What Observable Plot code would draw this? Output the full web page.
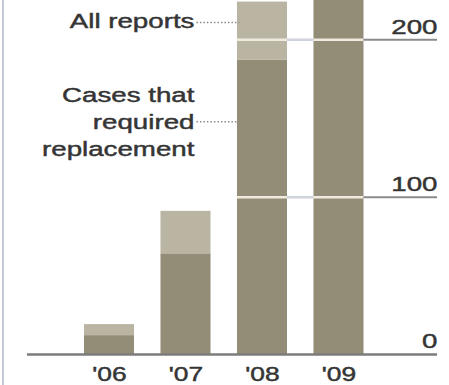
<!DOCTYPE html>
<html>
<head>
<meta charset="utf-8">
<script src="https://cdn.jsdelivr.net/npm/d3@7"></script>
<script src="https://cdn.jsdelivr.net/npm/@observablehq/plot@0.6"></script>
<style>
  html, body { margin: 0; padding: 0; background: #fff; }
  #wrap { position: relative; width: 449px; height: 385px; overflow: hidden; }
  #edge { position: absolute; left: 2px; top: 0; width: 2px; height: 385px; background: #c3cad5; }
</style>
</head>
<body>
<div id="wrap"><div id="edge"></div></div>
<script>
// Reports per year, and the subset of cases that required replacement
const years = [2006, 2007, 2008, 2009];
const yearLabels = ["'06", "'07", "'08", "'09"];
const allReports = [19, 91, 224, 262];
const replaced = [12, 64, 187, 250];
const yTicks = [0, 100, 200];

const data = years.map((year, i) => ({
  year,
  label: yearLabels[i],
  total: allReports[i],
  replaced: replaced[i]
}));

const dark = "#938d78";
const light = "#bab4a2";
const ink = "#353535";
const hw = 0.327;                 // half of a bar's width, in years
const xDomain = [2004.928, 2010.288];
const font = "Liberation Sans, Arial, Helvetica, sans-serif";
const textStyle = { fontSize: 21, fill: ink, stroke: ink, strokeWidth: 0.45 };

const chart = Plot.plot({
  width: 449,
  height: 385,
  marginLeft: 27,
  marginRight: 12,
  marginTop: 0,
  marginBottom: 31,
  style: { fontFamily: font, background: "transparent", overflow: "visible" },
  x: { type: "linear", domain: xDomain, axis: null },
  y: { domain: [0, 225], axis: null },
  marks: [
    // stacked bars: replacement cases below, remaining reports above
    Plot.rectY(data, { x1: d => d.year - hw, x2: d => d.year + hw, y1: 0, y2: "replaced", fill: dark, clip: true }),
    Plot.rectY(data, { x1: d => d.year - hw, x2: d => d.year + hw, y1: "replaced", y2: "total", fill: light, clip: true }),
    // gridlines: pale where they cut the tall bars, grey beside the scale
    Plot.ruleY([100, 200], { x1: 2008 - hw, x2: 2009 + hw, stroke: "#efebde", strokeWidth: 2.5 }),
    Plot.ruleY([100, 200], { x1: 2008 + hw, x2: 2009 - hw, stroke: "#cfd3dc", strokeWidth: 2.5 }),
    Plot.ruleY([100, 200], { x1: 2009 + hw, x2: xDomain[1], stroke: "#8a8a8a", strokeWidth: 2 }),
    Plot.ruleY([0], { stroke: "#7c7c7c", strokeWidth: 2.5 }),
    // value scale labels on the right
    Plot.text(yTicks, { x: xDomain[1], y: d => d, text: d => String(d), textAnchor: "end", lineAnchor: "middle", dy: -13, ...textStyle }),
    // year labels
    Plot.text(data, { x: "year", y: 0, text: "label", lineAnchor: "middle", dy: 20, ...textStyle, fontSize: 20 }),
    // series annotations with dotted leaders
    Plot.ruleY([211, 148], { x1: 2008 - hw - 0.53, x2: 2008 - hw + 0.03, stroke: "#8a8a8a", strokeWidth: 1.5, strokeDasharray: "1.5,2" }),
    Plot.text(["All reports"], { x: 2008 - hw, y: 211, text: d => d, textAnchor: "end", lineAnchor: "middle", dx: -43, dy: -1, ...textStyle }),
    Plot.text(["Cases that\nrequired\nreplacement"], { x: 2008 - hw, y: 148, text: d => d, textAnchor: "end", lineAnchor: "middle", dx: -43, dy: -1, lineHeight: 1.28, ...textStyle })
  ]
});

// widen lettering horizontally around each label's anchor
chart.querySelectorAll("text").forEach(t => {
  const tr = t.getAttribute("transform");
  if (tr) {
    t.setAttribute("transform", tr + " scale(1.32,1)");
  } else {
    const x = +t.getAttribute("x") || 0, y = +t.getAttribute("y") || 0;
    t.removeAttribute("x"); t.removeAttribute("y");
    t.setAttribute("transform", `translate(${x},${y}) scale(1.32,1)`);
  }
});

document.getElementById("wrap").appendChild(chart);
</script>
</body>
</html>
